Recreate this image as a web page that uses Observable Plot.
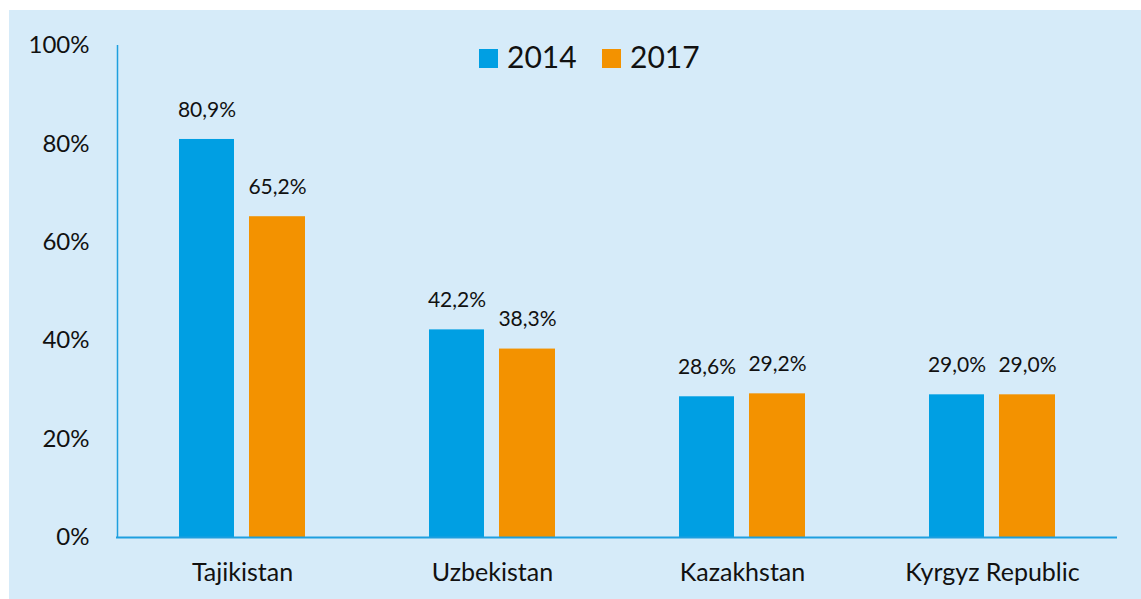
<!DOCTYPE html>
<html>
<head>
<meta charset="utf-8">
<script src="https://cdn.jsdelivr.net/npm/d3@7"></script>
<script src="https://cdn.jsdelivr.net/npm/@observablehq/plot@0.6"></script>
<style>
  html, body { margin: 0; padding: 0; background: #ffffff; }
  #wrap { position: relative; width: 1141px; height: 599px; overflow: hidden; font-family: Lato, sans-serif; }
  #panel { position: absolute; left: 9px; top: 10px; right: 0; bottom: 0; background: #D6EBF9; }
  #chart { position: absolute; left: 0; top: 0; }
  #legend { position: absolute; left: 0; top: 0; width: 1141px; height: 100px; pointer-events: none; }
  .sw { position: absolute; width: 19px; height: 19px; top: 49px; }
  .lt { position: absolute; top: 41px; font-size: 30px; line-height: 30px; color: #111; font-family: Lato, sans-serif; }
</style>
</head>
<body>
<div id="wrap">
  <div id="panel"></div>
  <div id="chart"></div>
  <div id="legend"></div>
</div>
<script>
const categories = ["Tajikistan", "Uzbekistan", "Kazakhstan", "Kyrgyz Republic"];
const years = ["2014", "2017"];
const values2014 = [80.9, 42.2, 28.6, 29.0];
const values2017 = [65.2, 38.3, 29.2, 29.0];
const yTicks = [0, 20, 40, 60, 80, 100];
const colors = {"2014": "#009FE3", "2017": "#F39200"};

const fmt = v => v.toFixed(1).replace(".", ",") + "%";
const d2014 = categories.map((c, i) => ({category: c, year: "2014", value: values2014[i]}));
const d2017 = categories.map((c, i) => ({category: c, year: "2017", value: values2017[i]}));

const axisBlue = "#1E9FDF";
const textColor = "#111111";

const chart = Plot.plot({
  width: 1141,
  height: 599,
  marginLeft: 116,
  marginRight: 24,
  marginTop: 45,
  marginBottom: 62,
  style: {background: "transparent", fontFamily: "Lato, sans-serif", color: textColor, overflow: "visible"},
  x: {type: "band", domain: categories, padding: 0},
  y: {domain: [0, 100]},
  marks: [
    Plot.barY(d2014, {x: "category", y: "value", fill: colors["2014"], insetLeft: 62, insetRight: 133}),
    Plot.barY(d2017, {x: "category", y: "value", fill: colors["2017"], insetLeft: 132, insetRight: 62}),
    Plot.text(d2014, {x: "category", y: "value", text: d => fmt(d.value), dx: -35.5, dy: -29.5, fontSize: 21, fill: textColor}),
    Plot.text(d2017, {x: "category", y: "value", text: d => fmt(d.value), dx: 35, dy: -29.5, fontSize: 21, fill: textColor}),
    Plot.ruleX([categories[0]], {x: d => d, y1: 0, y2: 100, dx: -125, stroke: axisBlue, strokeWidth: 1.5}),
    Plot.ruleY([0], {stroke: axisBlue, strokeWidth: 2}),
    Plot.axisY({ticks: yTicks, tickSize: 0, tickPadding: 27, tickFormat: d => d + "%", fontSize: 24, fill: textColor, label: null}),
    Plot.axisX({tickSize: 0, tickPadding: 26, fontSize: 25, fill: textColor, label: null})
  ]
});
document.getElementById("chart").appendChild(chart);

// Legend
const legend = document.getElementById("legend");
const legendPos = {"2014": {sw: 479, tx: 507}, "2017": {sw: 602, tx: 630}};
years.forEach(y => {
  const s = document.createElement("div");
  s.className = "sw";
  s.style.left = legendPos[y].sw + "px";
  s.style.background = colors[y];
  legend.appendChild(s);
  const t = document.createElement("div");
  t.className = "lt";
  t.style.left = legendPos[y].tx + "px";
  t.textContent = y;
  legend.appendChild(t);
});
</script>
</body>
</html>
